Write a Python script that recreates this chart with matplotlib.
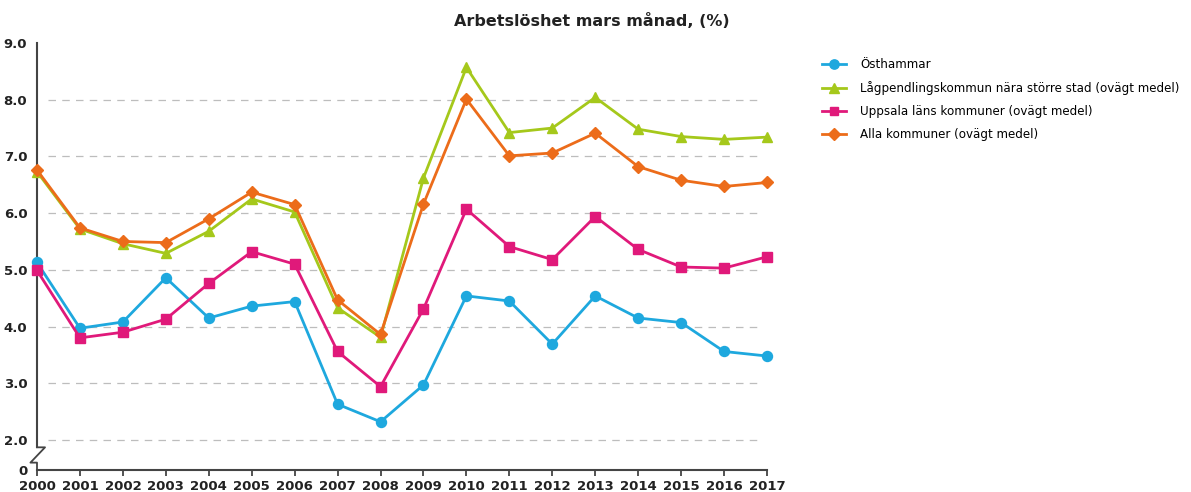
import matplotlib
matplotlib.use("Agg")
import matplotlib.pyplot as plt
from matplotlib.lines import Line2D

years = list(range(2000, 2018))
osthammar = [5.13, 3.97, 4.08, 4.86, 4.15, 4.36, 4.44, 2.63, 2.32, 2.97, 4.54, 4.45, 3.69, 4.54, 4.15, 4.07, 3.56, 3.48]
lagpendling = [6.73, 5.72, 5.46, 5.29, 5.68, 6.25, 6.02, 4.33, 3.81, 6.62, 8.57, 7.42, 7.50, 8.04, 7.48, 7.35, 7.30, 7.34]
uppsala = [4.99, 3.80, 3.90, 4.13, 4.76, 5.32, 5.10, 3.56, 2.94, 4.31, 6.07, 5.41, 5.18, 5.94, 5.36, 5.05, 5.03, 5.23]
alla = [6.76, 5.74, 5.50, 5.48, 5.90, 6.37, 6.15, 4.47, 3.86, 6.16, 8.01, 7.01, 7.06, 7.41, 6.82, 6.58, 6.47, 6.54]

series_names = ["Östhammar",
                "Lågpendlingskommun nära större stad (ovägt medel)",
                "Uppsala läns kommuner (ovägt medel)",
                "Alla kommuner (ovägt medel)"]
colors = ["#1ea8de", "#a5c81b", "#e0197a", "#ec6c1a"]
markers = ["o", "^", "s", "D"]
msizes = [7.2, 7.2, 6.8, 6.6]

ytick_vals = [2, 3, 4, 5, 6, 7, 8, 9]
ybottom = 1.47  # position representing 0 after the axis break

fig = plt.figure(figsize=(11.91, 4.92), dpi=100)
ax = fig.add_axes([37/1191, 1-470/492, (767-37)/1191, (470-43)/492])
ax.set_xlim(2000, 2017)
ax.set_ylim(ybottom, 9.0)

# gridlines
ax.hlines(ytick_vals[:-1], 2000.25, 2016.8, colors="#bdbdbd", linestyles=(0, (6, 5)), linewidth=0.9, zorder=1)

data = [osthammar, lagpendling, uppsala, alla]
zorders = [3, 4, 5, 6]
for i in range(4):
    ax.plot(years, data[i], color=colors[i], marker=markers[i], markersize=msizes[i],
            linewidth=2.0, label=series_names[i], zorder=zorders[i], clip_on=False)

for s in ["top", "right", "left"]:
    ax.spines[s].set_visible(False)
ax.spines["bottom"].set_color("#444444")
ax.spines["bottom"].set_linewidth(1.5)

# y axis with break
trans = ax.get_yaxis_transform()
ax.plot([0, 0], [9.0, 1.87], transform=trans, color="#444444", lw=1.5, clip_on=False)
zx = [0, 0.011, -0.009, 0.0, 0.0]
zy = [1.87, 1.87, 1.6, 1.6, ybottom]
ax.plot(zx, zy, transform=trans, color="#444444", lw=1.3, clip_on=False)

ax.set_yticks(ytick_vals + [ybottom])
ax.set_yticklabels([f"{v:.1f}" for v in ytick_vals] + ["0"])
ax.tick_params(axis="y", length=0, pad=7, labelsize=9.5, colors="#222222")
ax.set_xticks(years)
ax.set_xticklabels([str(y) for y in years])
ax.tick_params(axis="x", length=4, width=1.3, color="#444444", pad=3, labelsize=9.5, labelcolor="#222222")
for lab in ax.get_xticklabels() + ax.get_yticklabels():
    lab.set_fontweight("bold")

fig.text(0.497, 0.957, "Arbetslöshet mars månad, (%)", ha="center", va="center",
         fontsize=11.5, fontweight="bold", color="#222222")

handles = [Line2D([0], [0], color=colors[i], marker=markers[i], markersize=msizes[i]-0.5, lw=2.0)
           for i in range(4)]
fig.legend(handles, series_names, loc="upper left", bbox_to_anchor=(817/1191, 1-53/492),
           frameon=False, fontsize=8.6, handlelength=2.0, labelspacing=0.85, handletextpad=1.2,
           borderaxespad=0)

fig.savefig("out.png", dpi=100, facecolor="white")
